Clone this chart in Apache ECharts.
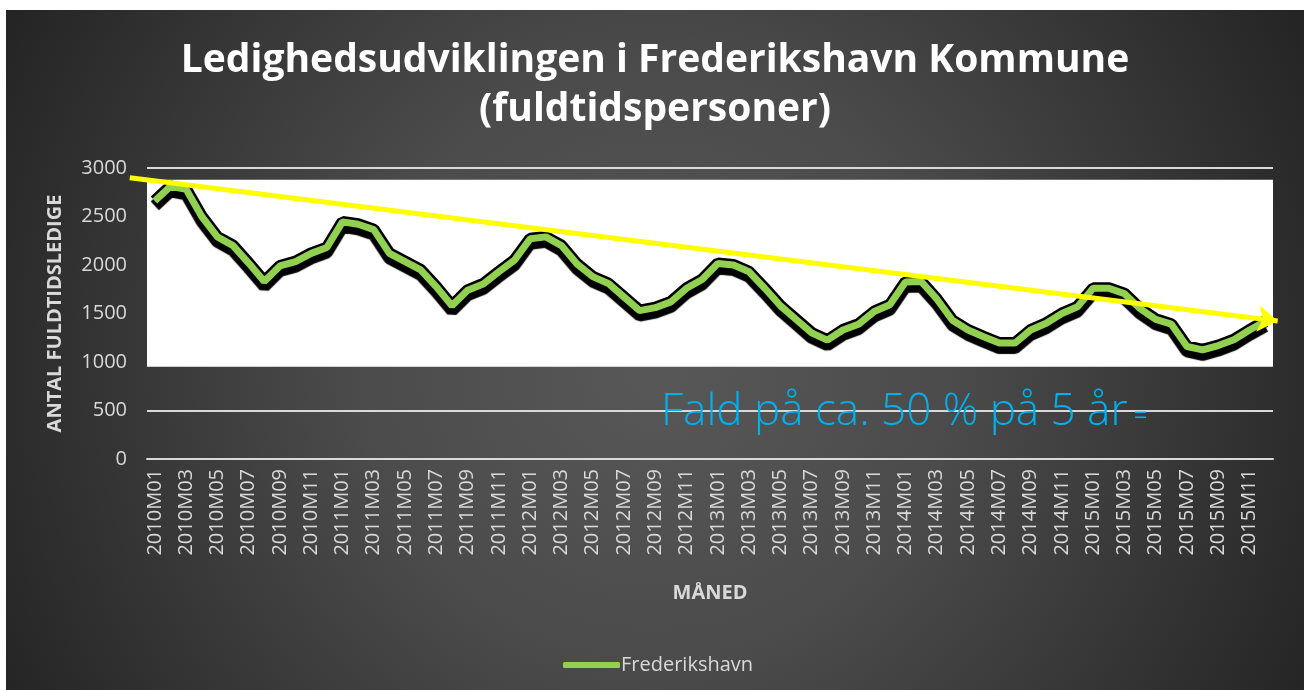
<!DOCTYPE html>
<html>
<head>
<meta charset="utf-8">
<script src="https://cdn.jsdelivr.net/npm/echarts@6/dist/echarts.min.js"></script>
<style>
  html, body { margin: 0; padding: 0; background: #fff; }
  #chart { position: absolute; left: 6px; top: 10px; width: 1298px; height: 680px; }
</style>
</head>
<body>
<div id="chart"></div>
<script>
// months 2010M01 .. 2015M12
const years = [2010, 2011, 2012, 2013, 2014, 2015]
const monthCodes = ['M01', 'M02', 'M03', 'M04', 'M05', 'M06', 'M07', 'M08', 'M09', 'M10', 'M11', 'M12']
const categories = []
for (let y of years) {
  for (let m of monthCodes) categories.push(y + m)
}

// fuldtidsledige, Frederikshavn
const ledige = [
  2660, 2810, 2780, 2500, 2290, 2200, 2020, 1830, 1990, 2035, 2120, 2180,
  2445, 2420, 2365, 2120, 2035, 1950, 1775, 1580, 1740, 1805, 1930, 2050,
  2270, 2290, 2200, 2010, 1880, 1810, 1670, 1530, 1560, 1620, 1760, 1850,
  2015, 2000, 1930, 1760, 1580, 1440, 1300, 1225, 1330, 1390, 1520, 1590,
  1825, 1830, 1650, 1430, 1330, 1260, 1195, 1195, 1330, 1400, 1500, 1570,
  1760, 1760, 1705, 1550, 1440, 1390, 1160, 1125, 1170, 1230, 1330, 1420
]

// trend arrow (x as month index, y as value)
const trendStart = [-1.6, 2900]
const trendEnd = [71.8, 1423]

// white band behind the line
const bandRange = [950, 2880]

const yTicks = { min: 0, max: 3000, interval: 500 }

const chart = echarts.init(document.getElementById('chart'))

const labelColor = '#d9d9d9'
const font = 'Open Sans'

// main grid, and a slightly wider one for the trend arrow (same scale per month)
const gridLeft = 141, gridRight = 31, gridTop = 158, gridBottom = 231
const monthW = (1298 - gridLeft - gridRight) / categories.length

const option = {
  backgroundColor: {
    type: 'radial', x: 0.5, y: 0.52, r: 1.1,
    colorStops: [
      { offset: 0, color: '#585858' },
      { offset: 0.4, color: '#4b4b4b' },
      { offset: 1, color: '#232323' }
    ]
  },
  title: {
    text: 'Ledighedsudviklingen i Frederikshavn Kommune\n(fuldtidspersoner)',
    left: 'center',
    top: 26,
    padding: 0,
    textStyle: {
      color: '#ffffff',
      fontFamily: font,
      fontWeight: 'bold',
      fontSize: 39,
      lineHeight: 49
    }
  },
  legend: {
    data: ['Frederikshavn'],
    left: 552,
    top: 640,
    itemWidth: 57,
    itemHeight: 6,
    itemGap: 10,
    icon: 'roundRect',
    textStyle: { color: labelColor, fontFamily: font, fontSize: 20, padding: [0, 0, 0, -4] }
  },
  grid: [
    { left: gridLeft, right: gridRight, top: gridTop, bottom: gridBottom },
    { left: gridLeft - 1.5 * monthW, right: gridRight - monthW, top: gridTop, bottom: gridBottom }
  ],
  xAxis: [
    {
      type: 'category',
      data: categories,
      name: 'MÅNED',
      nameLocation: 'middle',
      nameGap: 124,
      nameTextStyle: { color: labelColor, fontFamily: font, fontWeight: 'bold', fontSize: 20 },
      axisLine: { show: true, lineStyle: { color: '#d9d9d9', width: 2 } },
      axisTick: { show: false },
      axisLabel: {
        interval: 1,
        rotate: 90,
        margin: 10,
        color: labelColor,
        fontFamily: font,
        fontSize: 20
      }
    },
    {
      type: 'value',
      gridIndex: 1,
      min: -2,
      max: 72.5,
      show: false
    }
  ],
  yAxis: [
    {
      type: 'value',
      min: yTicks.min,
      max: yTicks.max,
      interval: yTicks.interval,
      name: 'ANTAL FULDTIDSLEDIGE',
      nameLocation: 'middle',
      nameGap: 82,
      nameTextStyle: { color: labelColor, fontFamily: font, fontWeight: 'bold', fontSize: 20 },
      axisLine: { show: false },
      axisTick: { show: false },
      axisLabel: {
        margin: 20, color: labelColor, fontFamily: font, fontSize: 20,
        formatter: (v) => String(v)
      },
      splitLine: { lineStyle: { color: '#d9d9d9', width: 2 } }
    },
    {
      type: 'value',
      gridIndex: 1,
      min: yTicks.min,
      max: yTicks.max,
      show: false
    }
  ],
  graphic: [
    {
      type: 'text',
      left: 655,
      top: 380,
      z: 10,
      style: {
        text: '{a|Fald på ca. 50 % på 5 år}{b| =}',
        rich: {
          a: { fill: '#00b0f0', fontFamily: font, fontWeight: 300, fontSize: 44 },
          b: { fill: '#00b0f0', fontFamily: font, fontSize: 24, verticalAlign: 'bottom', padding: [0, 0, 6, 0] }
        }
      }
    }
  ],
  series: [
    {
      name: 'band',
      type: 'line',
      data: [],
      z: 1,
      silent: true,
      markArea: {
        silent: true,
        itemStyle: { color: '#ffffff' },
        data: [[{ yAxis: bandRange[0] }, { yAxis: bandRange[1] }]]
      }
    },
    {
      name: 'outline',
      type: 'line',
      data: ledige,
      z: 3,
      silent: true,
      symbol: 'none',
      lineStyle: {
        color: '#000000',
        width: 12,
        shadowColor: '#000000',
        shadowBlur: 1,
        shadowOffsetY: 5
      }
    },
    {
      name: 'Frederikshavn',
      type: 'line',
      data: ledige,
      z: 4,
      symbol: 'none',
      itemStyle: { color: '#92d050' },
      lineStyle: { color: '#92d050', width: 7 }
    },
    {
      name: 'trend',
      type: 'line',
      xAxisIndex: 1,
      yAxisIndex: 1,
      data: [],
      z: 5,
      clip: false,
      silent: true,
      markLine: {
        silent: true,
        symbol: ['none', 'arrow'],
        symbolSize: [20, 20],
        label: { show: false },
        lineStyle: { color: '#ffff00', width: 5, type: 'solid' },
        data: [[{ coord: trendStart }, { coord: trendEnd }]]
      }
    }
  ]
}

chart.setOption(option)
</script>
</body>
</html>
